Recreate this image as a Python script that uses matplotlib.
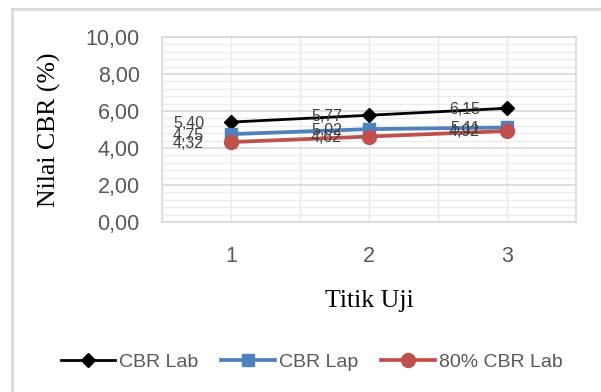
import matplotlib.pyplot as plt
from matplotlib.lines import Line2D
from matplotlib.ticker import MultipleLocator, FuncFormatter

# data
titik_uji = [1, 2, 3]
cbr_lab = [5.40, 5.77, 6.15]
cbr_lap = [4.75, 5.02, 5.11]
cbr_lab_80 = [4.32, 4.62, 4.92]
y_ticks = [0, 2, 4, 6, 8, 10]


def koma(v):
    # Indonesian decimal comma
    return f"{v:.2f}".replace(".", ",")


def main():
    plt.rcParams['font.family'] = ['Liberation Sans', 'DejaVu Sans']
    fig = plt.figure(figsize=(6.01, 3.92), dpi=100)
    ax = fig.add_axes([162 / 601, 1 - 222 / 392, 414 / 601, 185 / 392])

    # outer chart border (left and top only visible)
    fig.add_artist(Line2D([12 / 601, 12 / 601], [0, 1 - 9 / 392],
                          transform=fig.transFigure, color='#d9d9d9', lw=2))
    fig.add_artist(Line2D([12 / 601, 1], [1 - 9 / 392, 1 - 9 / 392],
                          transform=fig.transFigure, color='#d9d9d9', lw=2))

    series = [
        ('CBR Lab', cbr_lab, 'black', 'D', 7.5, 2.0),
        ('CBR Lap', cbr_lap, '#4f81bd', 's', 8, 2.7),
        ('80% CBR Lab', cbr_lab_80, '#c0504d', 'o', 10, 2.7),
    ]
    for name, vals, col, mk, ms, lw in series:
        ax.plot(titik_uji, vals, color=col, marker=mk, markersize=ms,
                lw=lw, label=name, zorder=3)
        for x, v in zip(titik_uji, vals):
            ax.annotate(koma(v), (x, v), xytext=(-27, -1),
                        textcoords='offset pixels', ha='right', va='center',
                        fontsize=11.5, color='#404040', zorder=4)

    ax.set_xlim(0.5, 3.5)
    ax.set_ylim(0, 10)
    ax.set_xticks(titik_uji)
    ax.set_yticks(y_ticks)
    ax.yaxis.set_major_formatter(FuncFormatter(lambda v, p: koma(v)))
    ax.yaxis.set_minor_locator(MultipleLocator(0.4))
    ax.xaxis.set_minor_locator(MultipleLocator(0.5))

    ax.grid(which='major', axis='y', color='#d9d9d9', lw=1.2)
    ax.grid(which='minor', axis='y', color='#ececec', lw=1.0)
    ax.grid(which='both', axis='x', color='#e8e8e8', lw=1.0)
    ax.set_axisbelow(True)
    for s in ax.spines.values():
        s.set_color('#d9d9d9')
        s.set_linewidth(1.2)

    ax.tick_params(which='both', length=0)
    ax.tick_params(axis='y', labelsize=15.5, labelcolor='#595959', pad=16)
    ax.tick_params(axis='x', labelsize=15.5, labelcolor='#595959', pad=17)

    ax.set_ylabel('Nilai CBR (%)', family='Liberation Serif', fontsize=18.5)
    ax.yaxis.set_label_coords(-0.245, 0.5)
    ax.set_xlabel('Titik Uji', family='Liberation Serif', fontsize=18.5)
    ax.xaxis.set_label_coords(0.5, -0.37)

    leg = fig.legend(loc='center', bbox_to_anchor=(0.519, 1 - 362 / 392),
                     ncol=3, frameon=False, fontsize=14, handlelength=2.8,
                     handletextpad=0.2, columnspacing=1.15)
    for t in leg.get_texts():
        t.set_color('#595959')

    fig.savefig('out.png', dpi=100)


if __name__ == "__main__":
    main()
